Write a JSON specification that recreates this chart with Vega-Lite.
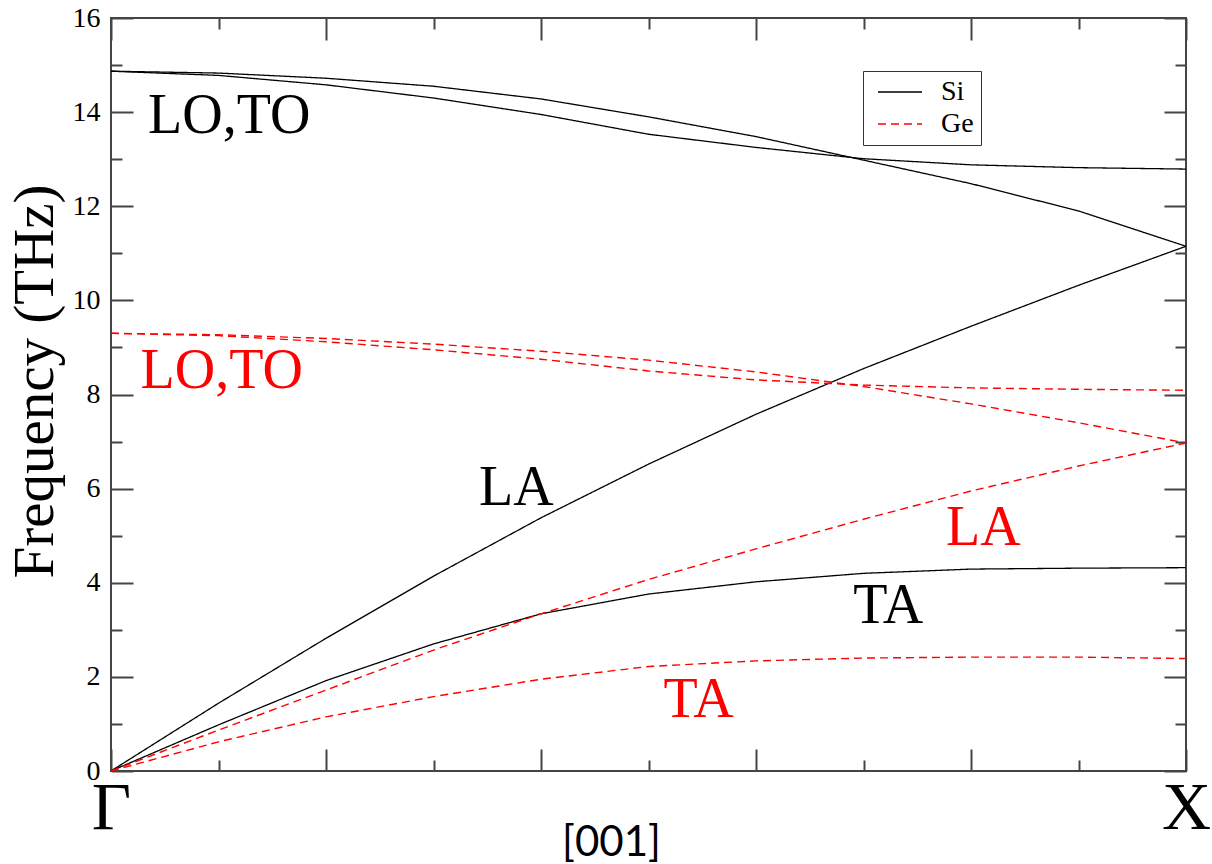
{
  "$schema": "https://vega.github.io/schema/vega-lite/v6.json",
  "width": 1075,
  "height": 753,
  "autosize": {"type": "none"},
  "padding": {"left": 111, "top": 18, "right": 26, "bottom": 93},
  "background": "white",
  "config": {
    "font": "Liberation Serif",
    "view": {"stroke": "#444", "strokeWidth": 2},
    "axis": {
      "grid": false,
      "domain": false,
      "tickColor": "#444",
      "tickWidth": 2,
      "labelFont": "Liberation Serif",
      "titleFont": "Liberation Serif",
      "labelColor": "#000",
      "titleColor": "#000",
      "titleFontWeight": "normal"
    },
    "legend": {"labelFont": "Liberation Serif"}
  },
  "datasets": {
    "phonons": [
      {"material": "Si", "branch": "LO", "q": 0.0, "freq": 14.87},
      {"material": "Si", "branch": "LO", "q": 0.1, "freq": 14.83},
      {"material": "Si", "branch": "LO", "q": 0.2, "freq": 14.72},
      {"material": "Si", "branch": "LO", "q": 0.3, "freq": 14.55},
      {"material": "Si", "branch": "LO", "q": 0.4, "freq": 14.28},
      {"material": "Si", "branch": "LO", "q": 0.5, "freq": 13.90},
      {"material": "Si", "branch": "LO", "q": 0.6, "freq": 13.48},
      {"material": "Si", "branch": "LO", "q": 0.7, "freq": 12.98},
      {"material": "Si", "branch": "LO", "q": 0.8, "freq": 12.48},
      {"material": "Si", "branch": "LO", "q": 0.9, "freq": 11.90},
      {"material": "Si", "branch": "LO", "q": 1.0, "freq": 11.15},
      {"material": "Si", "branch": "TO", "q": 0.0, "freq": 14.87},
      {"material": "Si", "branch": "TO", "q": 0.1, "freq": 14.78},
      {"material": "Si", "branch": "TO", "q": 0.2, "freq": 14.58},
      {"material": "Si", "branch": "TO", "q": 0.3, "freq": 14.30},
      {"material": "Si", "branch": "TO", "q": 0.4, "freq": 13.95},
      {"material": "Si", "branch": "TO", "q": 0.5, "freq": 13.53},
      {"material": "Si", "branch": "TO", "q": 0.6, "freq": 13.25},
      {"material": "Si", "branch": "TO", "q": 0.7, "freq": 13.01},
      {"material": "Si", "branch": "TO", "q": 0.8, "freq": 12.88},
      {"material": "Si", "branch": "TO", "q": 0.9, "freq": 12.82},
      {"material": "Si", "branch": "TO", "q": 1.0, "freq": 12.79},
      {"material": "Si", "branch": "LA", "q": 0.0, "freq": 0.0},
      {"material": "Si", "branch": "LA", "q": 0.1, "freq": 1.44},
      {"material": "Si", "branch": "LA", "q": 0.2, "freq": 2.82},
      {"material": "Si", "branch": "LA", "q": 0.3, "freq": 4.14},
      {"material": "Si", "branch": "LA", "q": 0.4, "freq": 5.38},
      {"material": "Si", "branch": "LA", "q": 0.5, "freq": 6.52},
      {"material": "Si", "branch": "LA", "q": 0.6, "freq": 7.58},
      {"material": "Si", "branch": "LA", "q": 0.7, "freq": 8.55},
      {"material": "Si", "branch": "LA", "q": 0.8, "freq": 9.45},
      {"material": "Si", "branch": "LA", "q": 0.9, "freq": 10.32},
      {"material": "Si", "branch": "LA", "q": 1.0, "freq": 11.15},
      {"material": "Si", "branch": "TA", "q": 0.0, "freq": 0.0},
      {"material": "Si", "branch": "TA", "q": 0.1, "freq": 0.98},
      {"material": "Si", "branch": "TA", "q": 0.2, "freq": 1.92},
      {"material": "Si", "branch": "TA", "q": 0.3, "freq": 2.70},
      {"material": "Si", "branch": "TA", "q": 0.4, "freq": 3.34},
      {"material": "Si", "branch": "TA", "q": 0.5, "freq": 3.76},
      {"material": "Si", "branch": "TA", "q": 0.6, "freq": 4.02},
      {"material": "Si", "branch": "TA", "q": 0.7, "freq": 4.20},
      {"material": "Si", "branch": "TA", "q": 0.8, "freq": 4.29},
      {"material": "Si", "branch": "TA", "q": 0.9, "freq": 4.31},
      {"material": "Si", "branch": "TA", "q": 1.0, "freq": 4.32},
      {"material": "Ge", "branch": "LO", "q": 0.0, "freq": 9.30},
      {"material": "Ge", "branch": "LO", "q": 0.1, "freq": 9.27},
      {"material": "Ge", "branch": "LO", "q": 0.2, "freq": 9.19},
      {"material": "Ge", "branch": "LO", "q": 0.3, "freq": 9.07},
      {"material": "Ge", "branch": "LO", "q": 0.4, "freq": 8.92},
      {"material": "Ge", "branch": "LO", "q": 0.5, "freq": 8.73},
      {"material": "Ge", "branch": "LO", "q": 0.6, "freq": 8.48},
      {"material": "Ge", "branch": "LO", "q": 0.7, "freq": 8.17},
      {"material": "Ge", "branch": "LO", "q": 0.8, "freq": 7.80},
      {"material": "Ge", "branch": "LO", "q": 0.9, "freq": 7.40},
      {"material": "Ge", "branch": "LO", "q": 1.0, "freq": 6.97},
      {"material": "Ge", "branch": "TO", "q": 0.0, "freq": 9.30},
      {"material": "Ge", "branch": "TO", "q": 0.1, "freq": 9.25},
      {"material": "Ge", "branch": "TO", "q": 0.2, "freq": 9.12},
      {"material": "Ge", "branch": "TO", "q": 0.3, "freq": 8.95},
      {"material": "Ge", "branch": "TO", "q": 0.4, "freq": 8.75},
      {"material": "Ge", "branch": "TO", "q": 0.5, "freq": 8.50},
      {"material": "Ge", "branch": "TO", "q": 0.6, "freq": 8.31},
      {"material": "Ge", "branch": "TO", "q": 0.7, "freq": 8.20},
      {"material": "Ge", "branch": "TO", "q": 0.8, "freq": 8.14},
      {"material": "Ge", "branch": "TO", "q": 0.9, "freq": 8.11},
      {"material": "Ge", "branch": "TO", "q": 1.0, "freq": 8.09},
      {"material": "Ge", "branch": "LA", "q": 0.0, "freq": 0.0},
      {"material": "Ge", "branch": "LA", "q": 0.1, "freq": 0.87},
      {"material": "Ge", "branch": "LA", "q": 0.2, "freq": 1.72},
      {"material": "Ge", "branch": "LA", "q": 0.3, "freq": 2.57},
      {"material": "Ge", "branch": "LA", "q": 0.4, "freq": 3.34},
      {"material": "Ge", "branch": "LA", "q": 0.5, "freq": 4.07},
      {"material": "Ge", "branch": "LA", "q": 0.6, "freq": 4.72},
      {"material": "Ge", "branch": "LA", "q": 0.7, "freq": 5.35},
      {"material": "Ge", "branch": "LA", "q": 0.8, "freq": 5.95},
      {"material": "Ge", "branch": "LA", "q": 0.9, "freq": 6.48},
      {"material": "Ge", "branch": "LA", "q": 1.0, "freq": 6.97},
      {"material": "Ge", "branch": "TA", "q": 0.0, "freq": 0.0},
      {"material": "Ge", "branch": "TA", "q": 0.1, "freq": 0.62},
      {"material": "Ge", "branch": "TA", "q": 0.2, "freq": 1.15},
      {"material": "Ge", "branch": "TA", "q": 0.3, "freq": 1.58},
      {"material": "Ge", "branch": "TA", "q": 0.4, "freq": 1.95},
      {"material": "Ge", "branch": "TA", "q": 0.5, "freq": 2.22},
      {"material": "Ge", "branch": "TA", "q": 0.6, "freq": 2.34},
      {"material": "Ge", "branch": "TA", "q": 0.7, "freq": 2.40},
      {"material": "Ge", "branch": "TA", "q": 0.8, "freq": 2.42},
      {"material": "Ge", "branch": "TA", "q": 0.9, "freq": 2.42},
      {"material": "Ge", "branch": "TA", "q": 1.0, "freq": 2.39}
    ],
    "labels": [
      {"material": "Si", "text": "LO,TO", "q": 0.110, "freq": 13.55},
      {"material": "Si", "text": "LA", "q": 0.377, "freq": 5.65},
      {"material": "Si", "text": "TA", "q": 0.723, "freq": 3.14},
      {"material": "Ge", "text": "LO,TO", "q": 0.103, "freq": 8.13},
      {"material": "Ge", "text": "LA", "q": 0.8115, "freq": 4.80},
      {"material": "Ge", "text": "TA", "q": 0.5465, "freq": 1.15}
    ]
  },
  "resolve": {"axis": {"x": "independent", "y": "independent"}},
  "layer": [
    {
      "data": {"name": "phonons"},
      "transform": [{"filter": "datum.material === 'Si'"}],
      "mark": {"type": "line", "strokeWidth": 1.3},
      "encoding": {
        "x": {
          "field": "q", "type": "quantitative",
          "scale": {"domain": [0, 1], "nice": false, "zero": false},
          "axis": {
            "orient": "bottom",
            "values": [0, 0.2, 0.4, 0.6, 0.8, 1],
            "tickSize": -22,
            "labelExpr": "datum.value == 0 ? 'Γ' : datum.value == 1 ? 'X' : ''",
            "labelFont": "Liberation Serif",
            "labelFontSize": 68,
            "labelBaseline": "alphabetic",
            "labelAlign": "center",
            "labelPadding": 79,
            "labelFlush": false,
            "labelOverlap": false,
            "labelBound": false,
            "encode": {"labels": {"update": {
              "dx": {"signal": "datum.value == 0 ? 10 : -2"},
              "dy": {"signal": "datum.value == 1 ? 17 : 0"}
            }}},
            "title": "[001]",
            "titleFont": "Lato",
            "titleFontSize": 42,
            "titleX": 500,
            "titleY": 84,
            "titleAlign": "center",
            "titleBaseline": "alphabetic"
          }
        },
        "y": {
          "field": "freq", "type": "quantitative",
          "scale": {"domain": [0, 16], "nice": false},
          "axis": {
            "orient": "left",
            "values": [0, 2, 4, 6, 8, 10, 12, 14, 16],
            "tickSize": -22,
            "labelFont": "Liberation Serif",
            "labelFontSize": 28,
            "labelPadding": 33,
            "labelBaseline": "middle",
            "title": "Frequency (THz)",
            "titleFont": "Liberation Serif",
            "titleFontSize": 57,
            "titleX": -76,
            "titleY": 363,
            "titleAngle": -90,
            "titleAlign": "center",
            "titleBaseline": "middle"
          }
        },
        "color": {
          "field": "material", "type": "nominal",
          "scale": {"domain": ["Si", "Ge"], "range": ["#000000", "#ff0000"]},
          "legend": {
            "orient": "none",
            "legendX": 752,
            "legendY": 53,
            "title": null,
            "direction": "vertical",
            "padding": 7,
            "strokeColor": "#333",
            "fillColor": "#ffffff",
            "labelFont": "Liberation Serif",
            "labelFontSize": 28,
            "labelColor": "#000",
            "symbolType": "M-2.2,0H2.2",
            "symbolSize": 400,
            "symbolStrokeWidth": 1.3,
            "symbolOffset": 16,
            "labelOffset": 27,
            "rowPadding": 4
          }
        },
        "strokeDash": {
          "field": "material", "type": "nominal",
          "scale": {"domain": ["Si", "Ge"], "range": [[1, 0], [8, 5]]}
        },
        "detail": {"field": "branch"},
        "order": {"field": "q", "type": "quantitative"}
      }
    },
    {
      "data": {"name": "phonons"},
      "transform": [{"filter": "datum.material === 'Ge'"}],
      "mark": {"type": "line", "strokeWidth": 1.4},
      "encoding": {
        "x": {
          "field": "q", "type": "quantitative",
          "axis": {"orient": "top", "values": [0, 0.2, 0.4, 0.6, 0.8, 1], "tickSize": -22, "labels": false, "title": null}
        },
        "y": {
          "field": "freq", "type": "quantitative",
          "axis": {"orient": "right", "values": [0, 2, 4, 6, 8, 10, 12, 14, 16], "tickSize": -22, "labels": false, "title": null}
        },
        "color": {"field": "material", "type": "nominal"},
        "strokeDash": {"field": "material", "type": "nominal"},
        "detail": {"field": "branch"},
        "order": {"field": "q", "type": "quantitative"}
      }
    },
    {
      "data": {"name": "labels"},
      "transform": [{"filter": "datum.material === 'Si'"}],
      "mark": {"type": "text", "font": "Liberation Serif", "fontSize": 56, "align": "center", "baseline": "alphabetic", "color": "#000000"},
      "encoding": {
        "x": {
          "field": "q", "type": "quantitative",
          "axis": {"orient": "bottom", "values": [0.1, 0.3, 0.5, 0.7, 0.9], "tickSize": -11, "labels": false, "title": null}
        },
        "y": {
          "field": "freq", "type": "quantitative",
          "axis": {"orient": "left", "values": [1, 3, 5, 7, 9, 11, 13, 15], "tickSize": -11, "labels": false, "title": null}
        },
        "text": {"field": "text"}
      }
    },
    {
      "data": {"name": "labels"},
      "transform": [{"filter": "datum.material === 'Ge'"}],
      "mark": {"type": "text", "font": "Liberation Serif", "fontSize": 56, "align": "center", "baseline": "alphabetic", "color": "#ff0000"},
      "encoding": {
        "x": {
          "field": "q", "type": "quantitative",
          "axis": {"orient": "top", "values": [0.1, 0.3, 0.5, 0.7, 0.9], "tickSize": -11, "labels": false, "title": null}
        },
        "y": {
          "field": "freq", "type": "quantitative",
          "axis": {"orient": "right", "values": [1, 3, 5, 7, 9, 11, 13, 15], "tickSize": -11, "labels": false, "title": null}
        },
        "text": {"field": "text"}
      }
    }
  ]
}
